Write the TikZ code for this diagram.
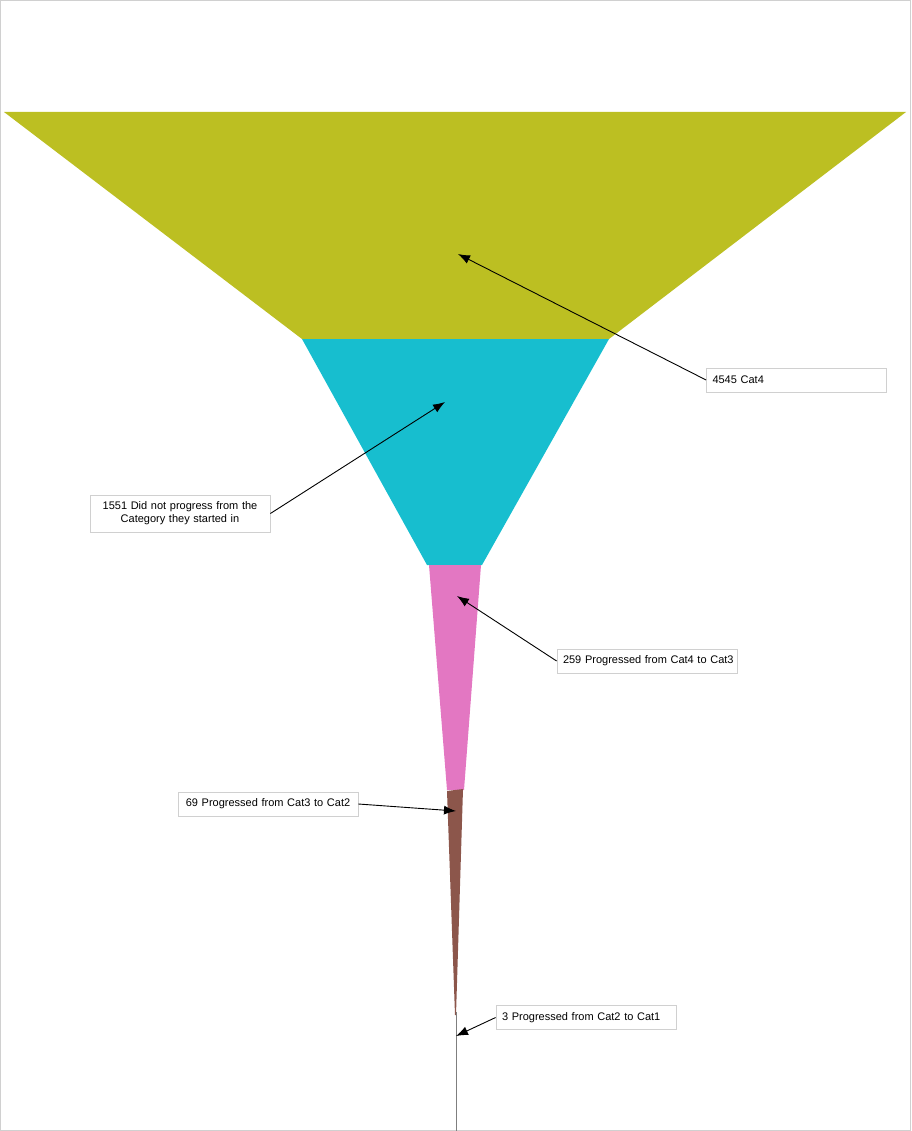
\documentclass[tikz,border=0pt]{standalone}
\usepackage{fontspec}
\setmainfont{Liberation Sans}
\usetikzlibrary{arrows.meta}
\definecolor{catolive}{HTML}{BCBF22}
\definecolor{catcyan}{HTML}{17BECF}
\definecolor{catpink}{HTML}{E377C2}
\definecolor{catbrown}{HTML}{8C564B}
\definecolor{catgray}{HTML}{7F7F7F}
\definecolor{boxgray}{HTML}{D0D0D0}
\begin{document}
\begin{tikzpicture}[x=1pt, y=-1pt,
    lbl/.style={draw=boxgray, fill=white, line width=0.8pt, minimum height=24pt,
      text width=174pt, inner xsep=3pt, inner ysep=3pt, align=left,
      font=\fontsize{11}{13}\selectfont},
    pointer/.style={-{Latex[length=12pt, width=9pt]}, line width=0.9pt}]
        \useasboundingbox (0, 0) rectangle (911, 1131);
        \draw[boxgray, line width=1pt] (0.5, 0.5) rectangle (910.5, 1130.5);
        \fill[catolive] (4, 112) -- (906, 112) -- (609, 339) -- (302, 339) -- cycle;
        \fill[catcyan] (302, 339) -- (609, 339) -- (482, 565) -- (427, 565) -- cycle;
        \fill[catpink] (429, 565) -- (481, 565) -- (464, 790) -- (447, 790) -- cycle;
        \fill[catbrown] (447, 791) -- (463, 789) -- (456, 1015) -- (455, 1015) -- cycle;
        \draw[catgray, line width=0.8pt] (456, 1012) -- (456, 1131);
        \coordinate (olivept) at (458, 254);
        \coordinate (cyanpt) at (445, 402);
        \coordinate (pinkpt) at (457, 596);
        \coordinate (brownpt) at (456, 811);
        \coordinate (graypt) at (456, 1036);
        \node[lbl] (cat4) at (796.5, 380) {\hspace*{3pt}4545 Cat4};
        \node[lbl, align=center, minimum height=37pt] (nostart) at (180, 513.5)
        {1551 Did not progress from the\\Category they started in};
        \node[lbl] (cat43) at (647, 661) {\hspace*{3pt}259 Progressed from Cat4 to Cat3};
        \node[lbl, align=center] (cat32) at (268, 804) {69 Progressed from Cat3 to Cat2};
        \node[lbl] (cat21) at (586, 1017.5) {\hspace*{3pt}3 Progressed from Cat2 to Cat1};
        \draw[pointer] (cat4.west) -- (olivept);
        \draw[pointer] (nostart.east) -- (cyanpt);
        \draw[pointer] (cat43.west) -- (pinkpt);
        \draw[pointer] (cat32.east) -- (brownpt);
        \draw[pointer] (cat21.west) -- (graypt);
      \end{tikzpicture}
\end{document}
